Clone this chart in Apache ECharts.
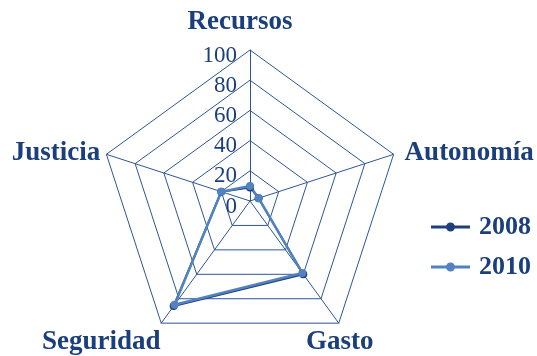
<!DOCTYPE html>
<html>
<head>
<meta charset="utf-8">
<script src="https://cdn.jsdelivr.net/npm/echarts@6/dist/echarts.min.js"></script>
<style>
  html, body { margin: 0; padding: 0; background: #fff; }
  #main { width: 537px; height: 356px; }
</style>
</head>
<body>
<div id="main"></div>
<script>
// indicadores en sentido antihorario desde arriba (orden de ECharts)
const indicators = ['Recursos', 'Justicia', 'Seguridad', 'Gasto', 'Autonomía']
const years = ['2008', '2010']
const values2008 = [9, 20, 86, 60, 6]
const values2010 = [10, 20, 85, 59, 6]

const navy = '#1b3f7c'
const gridColor = '#2e5597'
const font = '"Liberation Serif", "Times New Roman", serif'

// desplazamiento de cada etiqueta (relleno del texto)
const namePad = {
  Recursos: [0, 20, 36, 0],
  Justicia: [4, 82, 0, 0],
  Seguridad: [22, 108, 0, 0],
  Gasto: [22, 10, 0, 0],
  'Autonomía': [4, 0, 0, 132]
}
const rich = {}
indicators.forEach((n, i) => {
  rich['n' + i] = {
    fontFamily: font, fontSize: 27, fontWeight: 'bold', color: navy,
    padding: namePad[n]
  }
})

const chart = echarts.init(document.getElementById('main'))

const option = {
  animation: false,
  legend: {
    orient: 'vertical',
    left: 426,
    top: 209,
    itemWidth: 39,
    itemHeight: 9,
    itemGap: 14,
    icon: 'path://M0,3L39,3L39,6L0,6Z M24,4.5A4.5,4.5,0,1,1,15,4.5A4.5,4.5,0,1,1,24,4.5Z',
    data: years,
    textStyle: { fontFamily: font, fontSize: 26, fontWeight: 'bold', color: navy, padding: [0, 0, 0, 4] }
  },
  radar: {
    center: [250, 201],
    radius: 151,
    startAngle: 90,
    shape: 'polygon',
    splitNumber: 5,
    nameGap: 10,
    axisName: {
      align: 'center',
      verticalAlign: 'middle',
      fontFamily: font,
      fontSize: 27,
      fontWeight: 'bold',
      color: navy,
      rich: rich,
      formatter: (name) => '{n' + indicators.indexOf(name) + '|' + name + '}'
    },
    axisLine: { lineStyle: { color: gridColor, width: 1 } },
    splitLine: { lineStyle: { color: gridColor, width: 1 } },
    splitArea: { show: false },
    axisLabel: { show: false },
    indicator: indicators.map((name, i) => {
      const ind = { name: name, min: 0, max: 100 }
      if (i === 0) {
        ind.axisLabel = {
          show: true,
          fontFamily: font,
          fontSize: 23,
          color: navy,
          margin: 13,
          verticalAlign: 'top',
          padding: [-6, 0, 0, 0]
        }
      }
      return ind
    })
  },
  series: [
    {
      type: 'radar',
      symbol: 'circle',
      symbolSize: 8,
      data: [
        {
          name: years[0],
          value: values2008,
          lineStyle: { color: '#1f3f78', width: 2 },
          itemStyle: { color: '#1f3f78' }
        },
        {
          name: years[1],
          value: values2010,
          lineStyle: { color: '#5282bf', width: 2.5 },
          itemStyle: { color: '#5282bf' }
        }
      ]
    }
  ]
}

chart.setOption(option)
</script>
</body>
</html>
